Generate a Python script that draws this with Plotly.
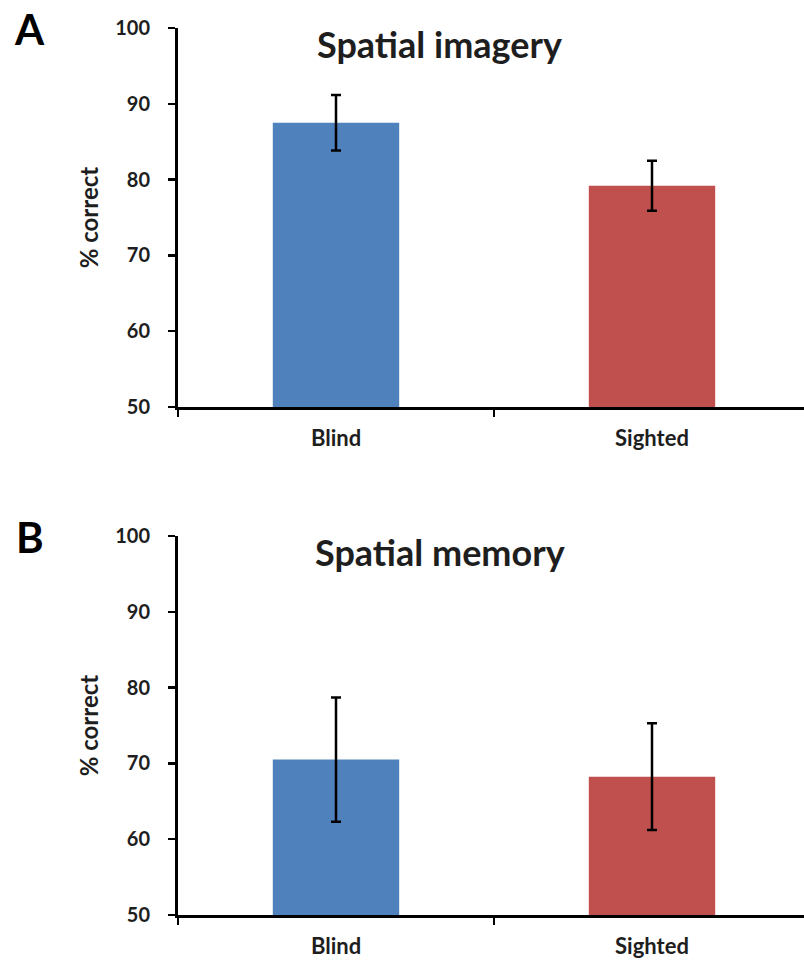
import plotly.graph_objects as go

# ---- data ----
groups = ["Blind", "Sighted"]
imagery_means = [87.5, 79.2]
imagery_err = [3.65, 3.3]
memory_means = [70.5, 68.25]
memory_err = [8.2, 7.05]
panel_titles = ["Spatial imagery", "Spatial memory"]
panel_letters = ["A", "B"]
bar_colors = ["#4F81BD", "#C0504D"]
y_ticks = [50, 60, 70, 80, 90, 100]

W, H = 804, 967
FONT = "Lato"
TXT = "#1e1e1e"

fig = go.Figure()

panels = [
    (imagery_means, imagery_err, "x", "y"),
    (memory_means, memory_err, "x2", "y2"),
]
for means, errs, xa, ya in panels:
    fig.add_trace(go.Bar(
        x=groups, y=[m - 50 for m in means], base=50,
        marker=dict(color=bar_colors, line=dict(width=0)),
        width=0.4,
        error_y=dict(type="data", array=errs, visible=True,
                     color="black", thickness=2.5, width=5),
        xaxis=xa, yaxis=ya, showlegend=False,
        hoverinfo="skip",
    ))

x_dom = [178 / W, 1.0]
y_doms = [[1 - 407 / H, 1 - 28 / H], [1 - 915 / H, 1 - 536 / H]]

axis_common_x = dict(
    type="category", range=[-0.5, 1.481], showline=True, linecolor="black",
    linewidth=3, ticks="outside", tickson="boundaries", ticklen=7,
    tickwidth=2.5, tickcolor="black", showgrid=False, zeroline=False,
    tickfont=dict(family=FONT, size=22, color=TXT, weight="bold"),
    ticklabelstandoff=10,
    domain=x_dom, automargin=False, fixedrange=True,
)
axis_common_y = dict(
    range=[50, 100], tickvals=y_ticks, showline=True, linecolor="black",
    linewidth=3, ticks="outside", ticklen=7, tickwidth=2.5, tickcolor="black",
    showgrid=False, zeroline=False, ticklabelstandoff=14,
    tickfont=dict(family=FONT, size=20, color=TXT, weight="bold"),
    title=dict(text="% correct",
               font=dict(family=FONT, size=24, color=TXT, weight="bold"),
               standoff=10),
    automargin=False, fixedrange=True,
)

fig.update_layout(
    width=W, height=H,
    margin=dict(l=0, r=0, t=0, b=0),
    paper_bgcolor="white", plot_bgcolor="white",
    xaxis=dict(**axis_common_x, anchor="y"),
    yaxis=dict(**axis_common_y, domain=y_doms[0], anchor="x"),
    xaxis2=dict(**axis_common_x, anchor="y2"),
    yaxis2=dict(**axis_common_y, domain=y_doms[1], anchor="x2"),
    bargap=0.6,
)

annotations = []
for i, (ttl, letter) in enumerate(zip(panel_titles, panel_letters)):
    yref = "y domain" if i == 0 else "y2 domain"
    annotations.append(dict(
        text=f"<b>{ttl}</b>", xref="paper", yref=yref,
        x=440 / W, y=0.958, xanchor="center", yanchor="middle",
        showarrow=False, font=dict(family=FONT, size=36, color=TXT),
    ))
    annotations.append(dict(
        text=f"<b>{letter}</b>", xref="paper", yref=yref,
        x=30 / W, y=0.997, xanchor="center", yanchor="middle",
        showarrow=False, font=dict(family=FONT, size=42, color="black"),
    ))
fig.update_layout(annotations=annotations)

fig.write_html("out.html",
               config={"displayModeBar": False, "staticPlot": True},
               post_script="document.body.style.margin='0';")
